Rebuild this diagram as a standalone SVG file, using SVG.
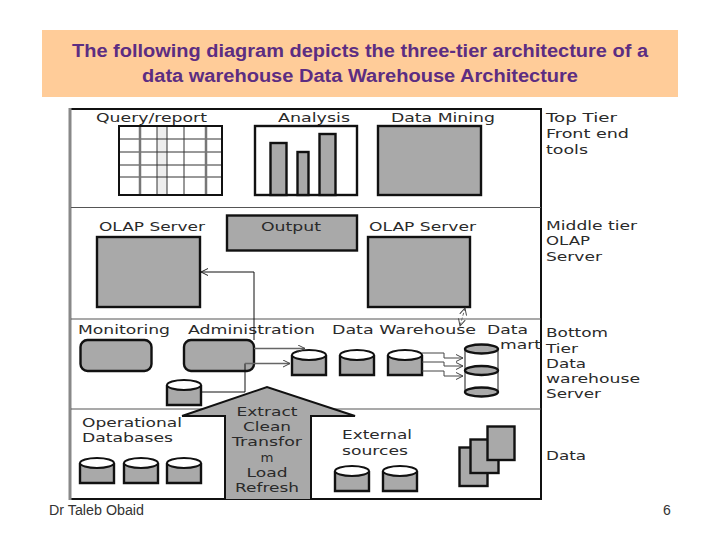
<svg xmlns="http://www.w3.org/2000/svg" width="720" height="540" viewBox="0 0 720 540">
<style>
.t{font-family:"DejaVu Sans","Liberation Sans",sans-serif;font-size:12.5px;fill:#2a2a2a}
.title{font-family:"Liberation Sans",Arial,sans-serif;font-size:18px;font-weight:bold;fill:#5c2d82;text-anchor:middle}
.foot{font-family:"Liberation Sans",Arial,sans-serif;font-size:14px;fill:#333}
.box{fill:#a9a9a9;stroke:#111;stroke-width:2.400}
.wbox{fill:#fff;stroke:#111;stroke-width:2.400}
.top{fill:#fff;stroke:#111;stroke-width:2}
.div{stroke:#555;stroke-width:1.200;fill:none}
.g{stroke:#444;stroke-width:1;fill:none}
.gc{stroke:#666;stroke-width:1.500;fill:none}
.k{stroke:#111;stroke-width:1;fill:none}
</style>
<defs>
<marker id="open" markerWidth="9" markerHeight="9" refX="7" refY="4" orient="auto" markerUnits="userSpaceOnUse"><path d="M0 0.500 L7 4 L0 7.500" fill="none" stroke="#222" stroke-width="1"/></marker>
<marker id="openS" markerWidth="9" markerHeight="9" refX="7" refY="4" orient="auto-start-reverse" markerUnits="userSpaceOnUse"><path d="M0 0.500 L7 4 L0 7.500" fill="none" stroke="#444" stroke-width="1"/></marker>
<g id="cyl"><path class="box" d="M0 6 V26 H34 V6"/><ellipse class="top" cx="17" cy="6" rx="17" ry="5"/></g>
</defs>
<rect width="720" height="540" fill="#fff"/>
<g id="banner">
<rect x="42" y="30" width="636" height="67" fill="#ffcc99"/>
<text class="title" x="360" y="57" textLength="576" lengthAdjust="spacingAndGlyphs">The following diagram depicts the three-tier architecture of a</text>
<text class="title" x="360" y="82" textLength="436" lengthAdjust="spacingAndGlyphs">data warehouse Data Warehouse Architecture</text>
</g>
<g id="frame">
<path d="M70 109 H541 V499 H70" fill="none" stroke="#111" stroke-width="2"/>
<path d="M70 108 V500" stroke="#888" stroke-width="3" fill="none"/>
<path class="div" d="M71 207.500 H541 M71 319 H541 M71 409 H541"/>
</g>
<g id="query-report">
<text class="t" x="96" y="122" textLength="111" lengthAdjust="spacingAndGlyphs">Query/report</text>
<rect x="157" y="126" width="10" height="69" fill="#eee"/>
<path d="M119 139 H222 M119 152 H222 M119 165 H222 M119 177 H222 M157 126 V195 M167 126 V195 M184 126 V195" stroke="#333" stroke-width="1" fill="none"/>
<path d="M140 126 V195 M206 126 V195" stroke="#777" stroke-width="2.500" fill="none"/>
<rect x="119" y="126" width="103" height="69" fill="none" stroke="#111" stroke-width="2"/>
</g>
<g id="analysis">
<text class="t" x="278" y="122" textLength="72" lengthAdjust="spacingAndGlyphs">Analysis</text>
<rect class="wbox" x="255" y="126" width="102" height="69"/>
<rect class="box" x="270.500" y="143" width="16" height="52"/>
<rect class="box" x="297.500" y="152" width="11" height="43"/>
<rect class="box" x="319.500" y="134" width="16" height="61"/>
</g>
<g id="data-mining">
<text class="t" x="391" y="122" textLength="104" lengthAdjust="spacingAndGlyphs">Data Mining</text>
<rect class="box" x="378" y="126" width="103" height="69"/>
</g>
<g id="top-tier-label">
<text class="t" x="546" y="122" textLength="71" lengthAdjust="spacingAndGlyphs">Top Tier</text>
<text class="t" x="546" y="138" textLength="83" lengthAdjust="spacingAndGlyphs">Front end</text>
<text class="t" x="546" y="154" textLength="42" lengthAdjust="spacingAndGlyphs">tools</text>
</g>
<g id="olap-left">
<text class="t" x="99" y="231" textLength="106" lengthAdjust="spacingAndGlyphs">OLAP Server</text>
<rect class="box" x="97" y="237" width="103" height="70"/>
</g>
<g id="output">
<rect class="box" x="227" y="215.500" width="130" height="35"/>
<text class="t" x="261" y="231" textLength="60" lengthAdjust="spacingAndGlyphs">Output</text>
</g>
<g id="olap-right">
<text class="t" x="369" y="231" textLength="107" lengthAdjust="spacingAndGlyphs">OLAP Server</text>
<rect class="box" x="368" y="237" width="102" height="70"/>
</g>
<g id="middle-tier-label">
<text class="t" x="546" y="230" textLength="91" lengthAdjust="spacingAndGlyphs">Middle tier</text>
<text class="t" x="546" y="245" textLength="44" lengthAdjust="spacingAndGlyphs">OLAP</text>
<text class="t" x="546" y="261" textLength="56" lengthAdjust="spacingAndGlyphs">Server</text>
</g>
<g id="monitoring">
<text class="t" x="78" y="334" textLength="92" lengthAdjust="spacingAndGlyphs">Monitoring</text>
<rect class="box" x="80.500" y="340" width="71" height="31" rx="7"/>
</g>
<g id="administration">
<text class="t" x="188" y="334" textLength="127" lengthAdjust="spacingAndGlyphs">Administration</text>
<rect class="box" x="184" y="340" width="70" height="31" rx="7"/>
</g>
<g id="metadata-cylinder"><use href="#cyl" x="167" y="379"/></g>
<g id="data-warehouse">
<text class="t" x="332" y="334" textLength="144" lengthAdjust="spacingAndGlyphs">Data Warehouse</text>
<use href="#cyl" x="292" y="349"/>
<use href="#cyl" x="340" y="349"/>
<use href="#cyl" x="388" y="349"/>
</g>
<g id="data-mart">
<text class="t" x="487" y="334" textLength="41" lengthAdjust="spacingAndGlyphs">Data</text>
<text class="t" x="500" y="349" textLength="41" lengthAdjust="spacingAndGlyphs">mart</text>
<path d="M465 349 V392 M498 349 V392" stroke="#666" stroke-width="1.500" fill="none"/>
<ellipse class="box" cx="481.500" cy="349" rx="16.500" ry="4.500"/>
<ellipse class="box" cx="481.500" cy="370.500" rx="16.500" ry="4.500"/>
<ellipse class="box" cx="481.500" cy="392" rx="16.500" ry="4.500"/>
</g>
<g id="bottom-tier-label">
<text class="t" x="546" y="337" textLength="62" lengthAdjust="spacingAndGlyphs">Bottom</text>
<text class="t" x="546" y="353" textLength="32" lengthAdjust="spacingAndGlyphs">Tier</text>
<text class="t" x="546" y="368" textLength="40" lengthAdjust="spacingAndGlyphs">Data</text>
<text class="t" x="546" y="383" textLength="94" lengthAdjust="spacingAndGlyphs">warehouse</text>
<text class="t" x="546" y="398" textLength="55" lengthAdjust="spacingAndGlyphs">Server</text>
</g>
<g id="etl-arrow">
<path d="M267 387 L355 416 H311 V499 H225 V416 H182 Z" fill="#a9a9a9"/>
<path d="M182 416 L267 387 L355 416 H311 V499 M225 499 V416 H182" fill="none" stroke="#111" stroke-width="2"/>
<g text-anchor="middle">
<text class="t" x="267" y="416" textLength="61" lengthAdjust="spacingAndGlyphs">Extract</text>
<text class="t" x="267" y="431" textLength="48" lengthAdjust="spacingAndGlyphs">Clean</text>
<text class="t" x="267" y="446" textLength="70" lengthAdjust="spacingAndGlyphs">Transfor</text>
<text class="t" x="267" y="462" textLength="13" lengthAdjust="spacingAndGlyphs">m</text>
<text class="t" x="267" y="477" textLength="41" lengthAdjust="spacingAndGlyphs">Load</text>
<text class="t" x="267" y="492" textLength="64" lengthAdjust="spacingAndGlyphs">Refresh</text>
</g>
</g>
<g id="operational-databases">
<text class="t" x="82" y="427" textLength="100" lengthAdjust="spacingAndGlyphs">Operational</text>
<text class="t" x="82" y="442" textLength="91" lengthAdjust="spacingAndGlyphs">Databases</text>
<use href="#cyl" x="80" y="457"/>
<use href="#cyl" x="124" y="457"/>
<use href="#cyl" x="167" y="457"/>
</g>
<g id="external-sources">
<text class="t" x="342" y="439" textLength="70" lengthAdjust="spacingAndGlyphs">External</text>
<text class="t" x="342" y="455" textLength="66" lengthAdjust="spacingAndGlyphs">sources</text>
<use href="#cyl" x="335" y="465"/>
<use href="#cyl" x="383" y="465"/>
</g>
<g id="documents">
<rect class="box" x="459.500" y="447.500" width="28" height="38.500"/>
<rect class="box" x="470.500" y="439.500" width="28" height="33.500"/>
<rect class="box" x="487.500" y="426.500" width="27" height="33.500"/>
</g>
<g id="data-label"><text class="t" x="546" y="460" textLength="40" lengthAdjust="spacingAndGlyphs">Data</text></g>
<g id="connectors">
<path class="k" d="M254 340 V272 H201" marker-end="url(#open)"/>
<path class="k" d="M201 392 H245 V363.500 H254"/>
<path class="gc" d="M245 363.500 H290" marker-end="url(#openS)"/>
<path class="gc" d="M254 348.500 H305" marker-end="url(#openS)"/>
<path class="g" d="M422 353 H444 V358 H463" marker-end="url(#openS)"/>
<path class="g" d="M422 362 H444 V366 H463" marker-end="url(#openS)"/>
<path class="g" d="M422 371 H444 V376 H463" marker-end="url(#openS)"/>
<path d="M465 308 L460 326" stroke="#666" stroke-width="1" stroke-dasharray="3 2" fill="none" marker-start="url(#openS)" marker-end="url(#openS)"/>
</g>
<g id="footer">
<text class="foot" x="49" y="515" textLength="95" lengthAdjust="spacingAndGlyphs">Dr Taleb Obaid</text>
<text class="foot" x="663" y="515">6</text>
</g>
</svg>
